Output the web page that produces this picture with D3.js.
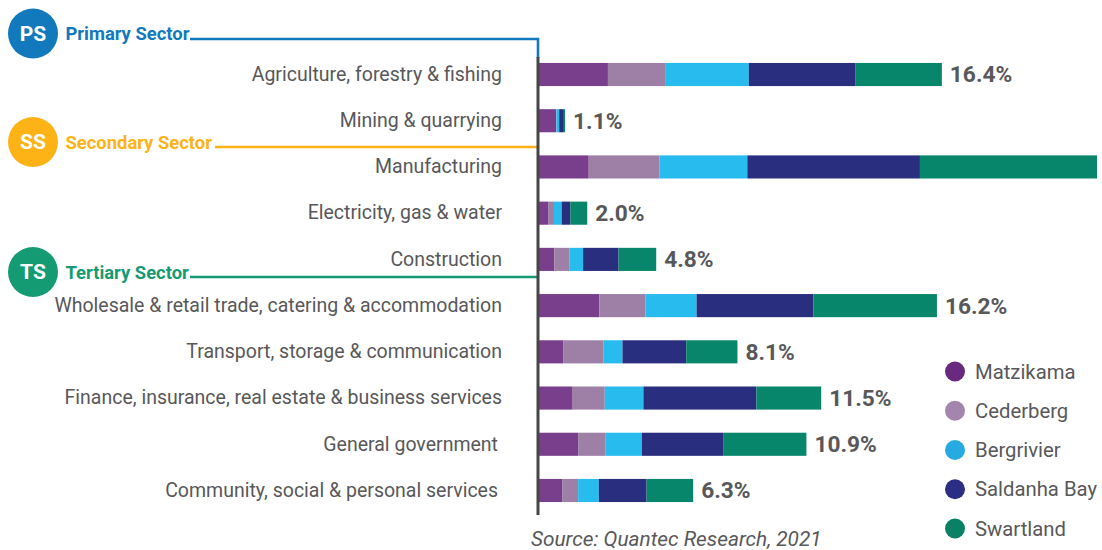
<!DOCTYPE html>
<html>
<head>
<meta charset="utf-8">
<script src="https://cdn.jsdelivr.net/npm/d3@7"></script>
<style>
html, body { margin: 0; padding: 0; background: #fff; overflow: hidden; }
svg { display: block; font-family: Roboto, sans-serif; }
</style>
</head>
<body>
<svg id="chart" width="1102" height="550"></svg>
<script>
// GDP contribution by sector, split by municipality (percentage points of the total)
const categories = [
  "Agriculture, forestry & fishing",
  "Mining & quarrying",
  "Manufacturing",
  "Electricity, gas & water",
  "Construction",
  "Wholesale & retail trade, catering & accommodation",
  "Transport, storage & communication",
  "Finance, insurance, real estate & business services",
  "General government",
  "Community, social & personal services"
];
const municipalities = ["Matzikama", "Cederberg", "Bergrivier", "Saldanha Bay", "Swartland"];
const matzikama   = [2.84, 0.74, 2.06, 0.41, 0.66, 2.49, 1.02, 1.38, 1.63, 0.98];
const cederberg   = [2.35, 0.01, 2.87, 0.24, 0.61, 1.88, 1.63, 1.33, 1.12, 0.65];
const bergrivier  = [3.37, 0.11, 3.57, 0.31, 0.56, 2.07, 0.78, 1.57, 1.47, 0.84];
const saldanhaBay = [4.34, 0.19, 7.01, 0.35, 1.44, 4.74, 2.59, 4.59, 3.32, 1.94];
const swartland   = [3.50, 0.05, 7.19, 0.69, 1.53, 5.02, 2.08, 2.63, 3.36, 1.89];
const seriesValues = [matzikama, cederberg, bergrivier, saldanhaBay, swartland];

const barColors = ["#7A3F8C", "#9E7FA6", "#27BBEE", "#2A2E7E", "#07866B"];
const legendColors = ["#68297F", "#A385AD", "#27AAE1", "#2B2E82", "#0A8064"];

const sectorCodes = ["PS", "SS", "TS"];
const sectorNames = ["Primary Sector", "Secondary Sector", "Tertiary Sector"];
const sectorColors = ["#1279BD", "#FDB316", "#149B74"];

const sourceNote = "Source: Quantec Research, 2021";
// The total for this row runs to the page edge, so its figure is left off
const unlabelled = new Set(["Manufacturing"]);
// Rows whose caption sits slightly further from the axis
const insetCaptions = new Set(["General government", "Community, social & personal services"]);

const ink = "#58585A";
const svg = d3.select("#chart");

const x = d3.scaleLinear().domain([0, 22.7]).range([538, 1097]);
const y = d3.scaleBand().domain(categories).range([51.4, 513.6]).paddingInner(0.5).paddingOuter(0.25);

const rows = categories.map((name, i) => ({ name, values: seriesValues.map(s => s[i]) }));
const stacked = d3.stack()
  .keys(municipalities.map((_, k) => k))
  .value((row, k) => row.values[k])(rows);

// Stacked segments
svg.append("g").selectAll("g").data(stacked).join("g")
  .attr("fill", (_, k) => barColors[k])
  .selectAll("rect").data(s => s.map(d => ({ d, name: d.data.name }))).join("rect")
  .attr("x", p => x(p.d[0]))
  .attr("y", p => y(p.name))
  .attr("width", p => x(p.d[1]) - x(p.d[0]))
  .attr("height", y.bandwidth());

// Row totals at the bar ends
svg.append("g").selectAll("text")
  .data(rows.filter(r => !unlabelled.has(r.name))).join("text")
  .attr("x", r => x(d3.sum(r.values)) + 8)
  .attr("y", r => y(r.name) + y.bandwidth() / 2)
  .attr("dy", "0.35em")
  .attr("fill", ink)
  .attr("font-size", 22.7)
  .attr("font-weight", 700)
  .text(r => d3.format(".1f")(d3.sum(r.values)) + "%");

// Category captions
const axis = svg.append("g")
  .attr("transform", `translate(${x(0)},0)`)
  .call(d3.axisLeft(y).tickSize(0).tickPadding(36));
axis.select(".domain").remove();
axis.selectAll("text")
  .attr("font-family", "Roboto, sans-serif")
  .attr("font-size", 19.5)
  .attr("fill", ink)
  .attr("dx", d => insetCaptions.has(d) ? -4 : 0);

// Sector badges and their leader lines into the axis
const badgeY = d3.scaleOrdinal().domain(sectorCodes).range([33.5, 142, 272]);
const leaderY = d3.scaleOrdinal().domain(sectorCodes).range([39, 147, 277]);
const leaderX = d3.scaleOrdinal().domain(sectorCodes).range([190, 215, 190]);
const line = d3.line();

const sectors = svg.append("g").selectAll("g").data(sectorCodes).join("g");
sectors.append("path")
  .attr("fill", "none")
  .attr("stroke", (_, i) => sectorColors[i])
  .attr("stroke-width", 2.6)
  .attr("d", (c, i) => line(i === 0
    ? [[leaderX(c), leaderY(c)], [x(0), leaderY(c)], [x(0), 58]]
    : [[leaderX(c), leaderY(c)], [x(0), leaderY(c)]]));
sectors.append("circle")
  .attr("cx", 33).attr("cy", c => badgeY(c)).attr("r", 25)
  .attr("fill", (_, i) => sectorColors[i]);
sectors.append("text")
  .attr("x", 33).attr("y", c => badgeY(c)).attr("dy", "0.35em")
  .attr("text-anchor", "middle")
  .attr("fill", "#fff").attr("font-size", 21).attr("font-weight", 700)
  .text(c => c);
sectors.append("text")
  .attr("x", 65.5).attr("y", c => badgeY(c) + 0.5).attr("dy", "0.35em")
  .attr("fill", (_, i) => sectorColors[i]).attr("font-size", 18.4).attr("font-weight", 700)
  .text((_, i) => sectorNames[i]);

// Vertical axis rule, on top of the leader lines
svg.append("line")
  .attr("x1", x(0)).attr("x2", x(0)).attr("y1", 57).attr("y2", 515)
  .attr("stroke", "#464648").attr("stroke-width", 3);

// Legend
const legendY = d3.scalePoint().domain(municipalities).range([371.5, 528.5]);
const legend = svg.append("g").selectAll("g").data(municipalities).join("g")
  .attr("transform", d => `translate(955,${legendY(d)})`);
legend.append("circle").attr("r", 10).attr("fill", (_, i) => legendColors[i]);
legend.append("text")
  .attr("x", 20).attr("dy", "0.35em")
  .attr("fill", ink).attr("font-size", 20.3)
  .text(d => d);

// Source note
svg.append("text")
  .attr("x", 531).attr("y", 546)
  .attr("fill", ink).attr("font-size", 20.8).attr("font-style", "italic")
  .text(sourceNote);
</script>
</body>
</html>
